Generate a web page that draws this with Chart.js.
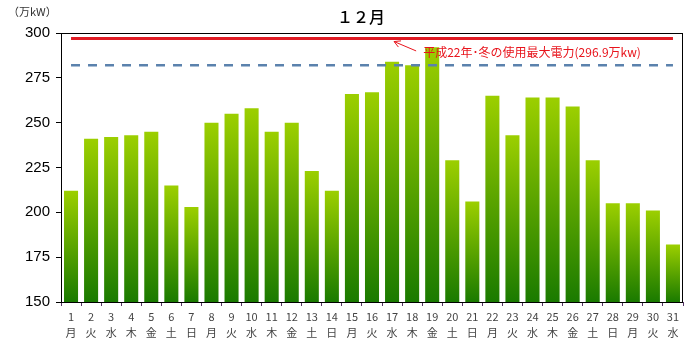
<!DOCTYPE html>
<html>
<head>
<meta charset="utf-8">
<script src="https://cdn.jsdelivr.net/npm/chart.js@4/dist/chart.umd.min.js"></script>
<style>
  body { margin: 0; background: #fff; }
  #wrap { width: 700px; height: 354px; }
</style>
</head>
<body>
<div id="wrap"><canvas id="chart"></canvas></div>
<script>
// days of December and weekday names
const days = ["1","2","3","4","5","6","7","8","9","10","11","12","13","14","15","16","17","18","19","20","21","22","23","24","25","26","27","28","29","30","31"];
const weekdays = ["月","火","水","木","金","土","日","月","火","水","木","金","土","日","月","火","水","木","金","土","日","月","火","水","木","金","土","日","月","火","水"];

// daily peak demand (万kW)
const dailyPeak = [212, 241, 242, 243, 245, 215, 203, 250, 255, 258, 245, 250, 223, 212, 266, 267, 284, 282, 292, 229, 206, 265, 243, 264, 264, 259, 229, 205, 205, 201, 182];

const recordPeak = 296.9;   // 平成22年 冬の使用最大電力
const supplyLine = 282;     // dashed reference line

const yTicks = [150, 175, 200, 225, 250, 275, 300];

const JP = "'Noto Sans CJK JP', 'Liberation Sans', sans-serif";

let labels = days.map((d, i) => [d, weekdays[i]]);

function barGradient(context){
  let chart = context.chart;
  if(!chart.chartArea) return "#6aaa00";
  let y = chart.scales.y;
  let top = y.getPixelForValue(context.raw);
  let bottom = y.getPixelForValue(yTicks[0]);
  let g = chart.ctx.createLinearGradient(0, top, 0, bottom);
  g.addColorStop(0, "#9ccf00");
  g.addColorStop(1, "#1a7a00");
  return g;
}

//border, title + notes drawn on top
const extras = {
  id: "extras",
  afterDatasetsDraw(chart){
    let c = chart.ctx;
    let a = chart.chartArea;
    let x = chart.scales.x;
    let y = chart.scales.y;
    c.save();
    c.strokeStyle = "#000";
    c.lineWidth = 1;
    c.strokeRect(a.left + 0.5, a.top + 0.5, a.right - a.left - 1, a.bottom - a.top);

    //title
    c.fillStyle = "#000";
    c.font = "500 16px " + JP;
    c.textAlign = "center";
    c.textBaseline = "middle";
    c.fillText("１２月", 361, 17);
    c.textAlign = "left";

    //annotation text
    c.fillStyle = "#e8141c";
    c.font = "12px " + JP;
    c.fillText("平成22年･冬の使用最大電力(296.9万kw)", x.getPixelForValue(18) - 9, y.getPixelForValue(289));

    //arrow
    let tipX = x.getPixelForValue(16) + 2;
    let tipY = y.getPixelForValue(recordPeak) + 3;
    let tailX = x.getPixelForValue(17) + 4;
    let tailY = y.getPixelForValue(290);
    let ang = Math.atan2(tailY - tipY, tailX - tipX);
    c.strokeStyle = "#e8141c";
    c.lineWidth = 1;
    c.beginPath();
    c.moveTo(tailX, tailY);
    c.lineTo(tipX, tipY);
    c.moveTo(tipX + 7 * Math.cos(ang - 0.5), tipY + 7 * Math.sin(ang - 0.5));
    c.lineTo(tipX, tipY);
    c.lineTo(tipX + 7 * Math.cos(ang + 0.5), tipY + 7 * Math.sin(ang + 0.5));
    c.stroke();

    //unit label
    c.fillStyle = "#333";
    c.font = "11px " + JP;
    c.fillText("（万kW）", 8, 12);
    c.restore();
  }
};

new Chart(document.querySelector("#chart"), {
  type: "bar",
  data: {
    labels: labels,
    datasets: [
      {
        type: "line",
        parsing: false,
        data: [{x: 0, y: recordPeak}, {x: 30, y: recordPeak}],
        borderColor: "#e01b24",
        borderWidth: 3,
        pointRadius: 0,
        order: 1
      },
      {
        type: "line",
        parsing: false,
        data: [{x: 0, y: supplyLine}, {x: 30, y: supplyLine}],
        borderColor: "#5b82ad",
        borderWidth: 2.5,
        borderDash: [9, 8],
        pointRadius: 0,
        order: 1
      },
      {
        data: dailyPeak,
        backgroundColor: barGradient,
        barPercentage: 0.7,
        categoryPercentage: 1,
        order: 2
      }
    ]
  },
  options: {
    responsive: true,
    maintainAspectRatio: false,
    animation: false,
    layout: { padding: { left: 10, right: 17, top: 33, bottom: 0 } },
    plugins: {
      legend: { display: false },
      tooltip: { enabled: false },
      title: { display: false }
    },
    scales: {
      x: {
        offset: true,
        grid: { display: true, drawOnChartArea: false, offset: true, tickLength: 4, color: "#553366" },
        border: { display: false },
        ticks: {
          color: "#444",
          font: { family: JP, size: 11, lineHeight: 1.45 },
          padding: 3,
          maxRotation: 0,
          autoSkip: false
        },
        afterFit: s => { s.height = 52; }
      },
      y: {
        min: 150,
        max: 300,
        grid: { display: true, drawOnChartArea: false, tickLength: 5, color: "#000" },
        border: { display: false },
        afterBuildTicks: s => { s.ticks = yTicks.map(v => ({value: v})); },
        ticks: {
          color: "#000",
          font: { family: "'Liberation Sans', Arial, sans-serif", size: 15 },
          padding: 6
        },
        afterFit: s => { s.width = 51; }
      }
    }
  },
  plugins: [extras]
});
</script>
</body>
</html>
